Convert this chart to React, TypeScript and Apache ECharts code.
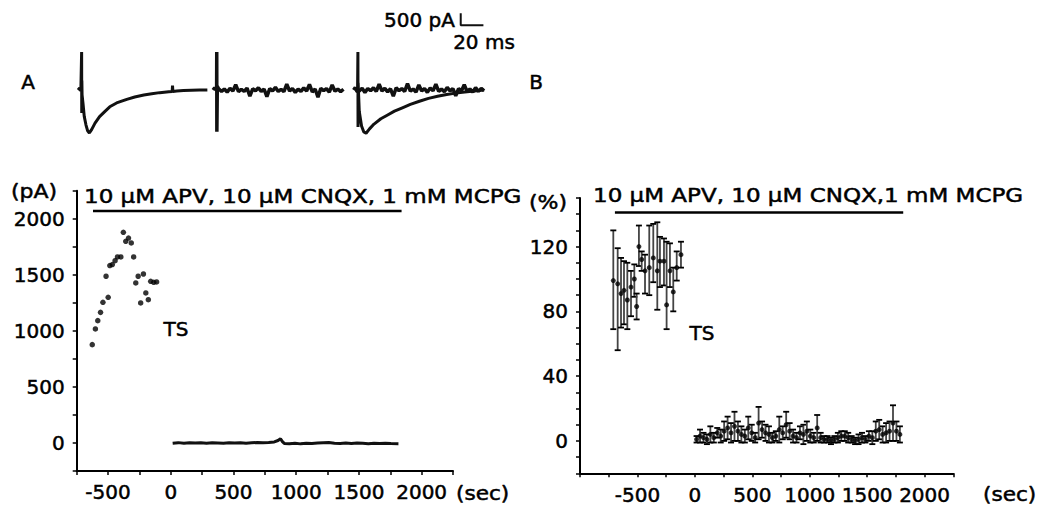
import React, { useEffect, useRef } from "react";
import * as echarts from "echarts";

const FONT = '"DejaVu Sans", sans-serif';

// ---- Panel A: amplitude (pA) vs time (sec) ----
const leftPreT = [-626, -601, -582, -560, -541, -516, -499, -486, -466, -444, -425, -398, -378, -359, -337, -315, -296, -279, -260, -240, -218, -199, -179, -160, -136, -113];
const leftPreV = [877, 1017, 1091, 1165, 1255, 1487, 1299, 1582, 1591, 1626, 1659, 1659, 1879, 1799, 1828, 1784, 1659, 1427, 1487, 1249, 1507, 1338, 1278, 1442, 1433, 1436];
const zeroT = [15, 60, 105, 150, 195, 240, 285, 330, 375, 420, 465, 510, 555, 600, 645, 690, 735, 780, 825, 855, 875, 890, 905, 945, 990, 1035, 1080, 1125, 1170, 1215, 1260, 1305, 1350, 1395, 1440, 1485, 1530, 1575, 1620, 1665, 1710, 1755, 1815];
const zeroV = [-2, 3, -3, 2, -1, 1, -3, 2, 0, -2, 3, -1, 2, -2, 1, 4, 2, 5, 9, 22, 38, 12, -4, -6, -2, -8, -3, -5, -1, 2, 4, -2, -4, -1, -5, 0, -3, -6, -2, -4, -3, -5, -6];
const leftDrugT = [-620, 1840];
const leftDrugLevel = 2070;

// ---- Panel B: normalized (%) vs time (sec) ----
const preT = [-710, -672, -643, -617, -588, -556, -527, -507, -487, -463, -434, -397, -362, -327, -304, -269, -246, -217, -188, -158, -121];
const preMean = [99, 97, 91, 93, 87, 95, 100, 83, 120, 112, 105, 107, 113, 105, 111, 111, 84, 105, 92, 107, 115];
const preLow = [69, 56, 70, 72, 69, 77, 89, 75, 108, 105, 91, 90, 98, 81, 95, 96, 69, 95, 80, 99, 107];
const preHigh = [130, 119, 113, 111, 110, 105, 109, 91, 133, 117, 115, 133, 134, 135, 126, 125, 123, 122, 107, 117, 123];
const postT = [15, 45, 75, 105, 135, 165, 195, 225, 255, 285, 315, 345, 375, 405, 435, 465, 495, 525, 555, 585, 615, 645, 675, 705, 735, 765, 795, 825, 855, 885, 915, 945, 975, 1005, 1035, 1065, 1095, 1125, 1155, 1185, 1215, 1245, 1275, 1305, 1335, 1365, 1395, 1425, 1455, 1485, 1515, 1545, 1575, 1605, 1635, 1665, 1695, 1725, 1755, 1785];
const postMean = [1, 3, 2, 1, 4, 2, 5, 3, 6, 8, 5, 9, 6, 4, 3, 8, 5, 2, 11, 7, 5, 4, 2, 3, 7, 5, 10, 6, 3, 2, 5, 4, 6, 3, 2, 8, 2, 1, 1, 0, 1, 2, 3, 3, 2, 1, 0, 1, 2, 1, 3, 2, 6, 7, 4, 5, 6, 11, 6, 4];
const postErr = [2, 4, 3, 3, 5, 3, 3, 4, 6, 7, 6, 9, 6, 5, 4, 7, 5, 3, 10, 5, 5, 5, 3, 3, 8, 4, 8, 5, 4, 3, 4, 6, 6, 4, 3, 8, 3, 2, 2, 2, 2, 3, 3, 3, 3, 2, 2, 3, 3, 2, 3, 4, 6, 6, 5, 6, 6, 11, 6, 5];
const rightDrugT = [-696, 1814];
const rightDrugLevel = 141;

// ---- Example traces (ms, pA) ----
const trace1T = [0, 1.5, 2.5, 3.2, 3.3, 3.4, 3.6, 4.5, 5.5, 7, 8.5, 10, 12, 15, 19, 24, 28, 34, 43, 50, 58, 65, 72, 80, 83, 83.3, 83.6, 87, 93, 100, 107, 114];
const trace1V = [0, 80, -40, 1580, -960, 400, -200, -600, -1100, -1450, -1700, -1790, -1650, -1380, -1110, -880, -700, -540, -390, -290, -210, -160, -110, -70, -60, 180, -60, -40, -25, -15, -5, 0];
const noiseT = [5, 7.5, 10, 12.5, 15, 17.5, 20, 22.5, 25, 27.5, 30, 32.5, 35, 37.5, 40, 42.5, 45, 47.5, 50, 52.5, 55, 57.5, 60, 62.5, 65, 67.5, 70, 72.5, 75, 77.5, 80, 82.5, 85, 87.5, 90, 92.5, 95, 97.5, 100, 102.5, 105, 107.5, 110, 112.5, 115];
const trace2HeadT = [0, 1.5, 3.2, 3.3, 3.4, 3.8];
const trace2HeadV = [0, 90, 30, 1580, -1740, 150];
const trace2V = [50, -60, 40, -90, 70, -40, 220, -70, 30, -60, 80, -260, 50, -30, 90, -60, 40, -280, 60, -40, 110, -60, 30, -70, 240, -40, 60, -100, 40, -60, 90, -40, 230, -80, 40, -300, 70, -30, 60, -90, 210, -50, 40, -70, 30];
const trace3HeadT = [0, 1.5, 3];
const trace3HeadV = [0, 100, -60];
const trace3V = [-40, 70, -100, 60, -30, 90, -60, 240, -40, 70, -80, 50, -260, 90, -30, 60, -60, 270, -50, 40, -90, 210, -40, 60, -100, 80, -30, 240, -60, 40, -70, 110, -40, 60, -240, 60, -40, 220, -60, 40, -90, 100, -60, 70, -30];
const trace3EpscT = [3.5, 3.8, 3.9, 4.0, 5, 7, 9, 11, 14, 18, 24, 30, 36, 43, 50, 58, 66, 74, 82, 90, 100, 115];
const trace3EpscV = [0, 1580, -1540, 300, -900, -1500, -1750, -1800, -1620, -1420, -1200, -1040, -880, -740, -600, -470, -350, -260, -190, -130, -70, 0];
const scaleBarMs = 20;
const scaleBarPa = 500;
const scaleBarOrigin = [94.4, 2700];

const zip = (a: number[], b: number[]) => a.map((v, i) => [v, b[i]]);

const axisCommon = {
  type: "value" as const,
  splitLine: { show: false },
  axisLine: { onZero: false, lineStyle: { color: "#000", width: 2 } },
  axisTick: { show: true, length: 4, lineStyle: { color: "#000", width: 1.5 } },
};
const labelStyle = { fontFamily: FONT, fontSize: 20, color: "#000", textBorderColor: "#000", textBorderWidth: 0.5 };

function errorBarRender(params: any, api: any) {
  const x = api.value(0);
  const lo = api.coord([x, api.value(1)]);
  const hi = api.coord([x, api.value(2)]);
  const w = 3;
  return {
    type: "group",
    children: [
      { type: "line", shape: { x1: lo[0], y1: lo[1], x2: hi[0], y2: hi[1] }, style: { stroke: "#444", lineWidth: 1.8 } },
      { type: "line", shape: { x1: hi[0] - w, y1: hi[1], x2: hi[0] + w, y2: hi[1] }, style: { stroke: "#000", lineWidth: 1.8 } },
      { type: "line", shape: { x1: lo[0] - w, y1: lo[1], x2: lo[0] + w, y2: lo[1] }, style: { stroke: "#000", lineWidth: 1.8 } },
    ],
  };
}

function text(str: string, x: number, y: number, align: string, extra: any = {}) {
  return {
    type: "text",
    x,
    y,
    silent: true,
    ...extra,
    style: {
      text: str,
      fill: "#000",
      stroke: "#000",
      lineWidth: 0.5,
      font: `20px ${FONT}`,
      textAlign: align,
      textVerticalAlign: "middle",
    },
  };
}

export default function App() {
  const ref = useRef<HTMLDivElement>(null);
  useEffect(() => {
    document.body.style.margin = "0";
    const chart = echarts.init(ref.current!, null, { renderer: "svg" });
    const traceGrid = (left: number) => ({ left, top: 6, width: 130.5, height: 144 });
    const traceX = (i: number) => ({ type: "value", gridIndex: i, min: 0, max: 115, show: false });
    const traceY = (i: number) => ({ type: "value", gridIndex: i, min: -2500, max: 3500, show: false });
    const traceLine = (i: number, data: number[][], width = 3) => ({
      type: "line",
      xAxisIndex: i,
      yAxisIndex: i,
      data,
      symbol: "none",
      silent: true,
      clip: false,
      lineStyle: { color: "#111", width },
    });

    const preData = preT.map((t, i) => [t, preLow[i], preHigh[i]]);
    const postData = postT.map((t, i) => [t, postMean[i] - postErr[i], postMean[i] + postErr[i]]);

    chart.setOption({
      animation: false,
      backgroundColor: "#fff",
      grid: [
        { left: 76.7, top: 190.7, width: 376.3, height: 280.3 },
        { left: 580, top: 198, width: 373.3, height: 275.3 },
        traceGrid(78),
        traceGrid(213),
        traceGrid(353.6),
      ],
      xAxis: [
        {
          ...axisCommon,
          gridIndex: 0,
          min: -750,
          max: 2250,
          interval: 250,
          axisLabel: { ...labelStyle, margin: 11, formatter: (v: number) => (v % 500 === 0 ? String(v) : "") },
        },
        {
          ...axisCommon,
          gridIndex: 1,
          min: -1000,
          max: 2250,
          interval: 250,
          axisLabel: { ...labelStyle, margin: 12, formatter: (v: number) => (v % 500 === 0 && v > -1000 ? String(v) : "") },
        },
        traceX(2),
        traceX(3),
        traceX(4),
      ],
      yAxis: [
        {
          ...axisCommon,
          gridIndex: 0,
          min: -250,
          max: 2250,
          interval: 250,
          axisLabel: { ...labelStyle, margin: 12, formatter: (v: number) => (v % 500 === 0 && v >= 0 && v <= 2000 ? String(v) : "") },
        },
        {
          ...axisCommon,
          gridIndex: 1,
          min: -20,
          max: 150,
          interval: 10,
          axisLabel: { ...labelStyle, margin: 12, formatter: (v: number) => (v % 40 === 0 && v >= 0 && v <= 120 ? String(v) : "") },
        },
        traceY(2),
        traceY(3),
        traceY(4),
      ],
      series: [
        {
          type: "scatter",
          xAxisIndex: 0,
          yAxisIndex: 0,
          data: zip(leftPreT, leftPreV),
          symbolSize: 5.5,
          itemStyle: { color: "#000" },
          silent: true,
        },
        {
          type: "line",
          xAxisIndex: 0,
          yAxisIndex: 0,
          data: zip(zeroT, zeroV),
          symbol: "none",
          silent: true,
          lineStyle: { color: "#111", width: 3 },
        },
        {
          type: "line",
          xAxisIndex: 0,
          yAxisIndex: 0,
          data: leftDrugT.map((t) => [t, leftDrugLevel]),
          symbol: "none",
          silent: true,
          lineStyle: { color: "#000", width: 2.5 },
        },
        {
          type: "custom",
          xAxisIndex: 1,
          yAxisIndex: 1,
          data: preData.concat(postData),
          encode: { x: 0, y: [1, 2] },
          renderItem: errorBarRender,
          silent: true,
        },
        {
          type: "scatter",
          xAxisIndex: 1,
          yAxisIndex: 1,
          data: zip(preT, preMean).concat(zip(postT, postMean)),
          symbolSize: 5,
          itemStyle: { color: "#000" },
          silent: true,
        },
        {
          type: "line",
          xAxisIndex: 1,
          yAxisIndex: 1,
          data: rightDrugT.map((t) => [t, rightDrugLevel]),
          symbol: "none",
          silent: true,
          lineStyle: { color: "#000", width: 2.5 },
        },
        traceLine(2, zip(trace1T, trace1V)),
        traceLine(3, zip(trace2HeadT, trace2HeadV).concat(zip(noiseT, trace2V)), 3.5),
        traceLine(4, zip(trace3HeadT, trace3HeadV).concat(zip(noiseT, trace3V)), 3.5),
        traceLine(4, zip(trace3EpscT, trace3EpscV)),
        traceLine(
          4,
          [
            [scaleBarOrigin[0], scaleBarOrigin[1] + scaleBarPa],
            [scaleBarOrigin[0], scaleBarOrigin[1]],
            [scaleBarOrigin[0] + scaleBarMs, scaleBarOrigin[1]],
          ],
          2
        ),
      ],
      graphic: [
        text("A", 28, 82, "center"),
        text("B", 536, 82, "center"),
        text("500 pA", 455, 20, "right"),
        text("20 ms", 484, 42, "center"),
        text("(pA)", 34, 191, "center", { scaleX: 1.1 }),
        text("(%)", 548, 202, "center", { scaleX: 1.1 }),
        text("10 μM APV, 10 μM CNQX, 1 mM MCPG", 84, 196, "left", { scaleX: 1.15 }),
        text("10 μM APV, 10 μM CNQX,1 mM MCPG", 593, 195, "left", { scaleX: 1.15 }),
        text("(sec)", 456, 493, "left", { scaleX: 1.08 }),
        text("(sec)", 983, 494, "left", { scaleX: 1.08 }),
        text("TS", 176, 329, "center"),
        text("TS", 702, 333, "center"),
      ],
    });
    return () => chart.dispose();
  }, []);
  return <div ref={ref} style={{ width: 1040, height: 508 }} />;
}
